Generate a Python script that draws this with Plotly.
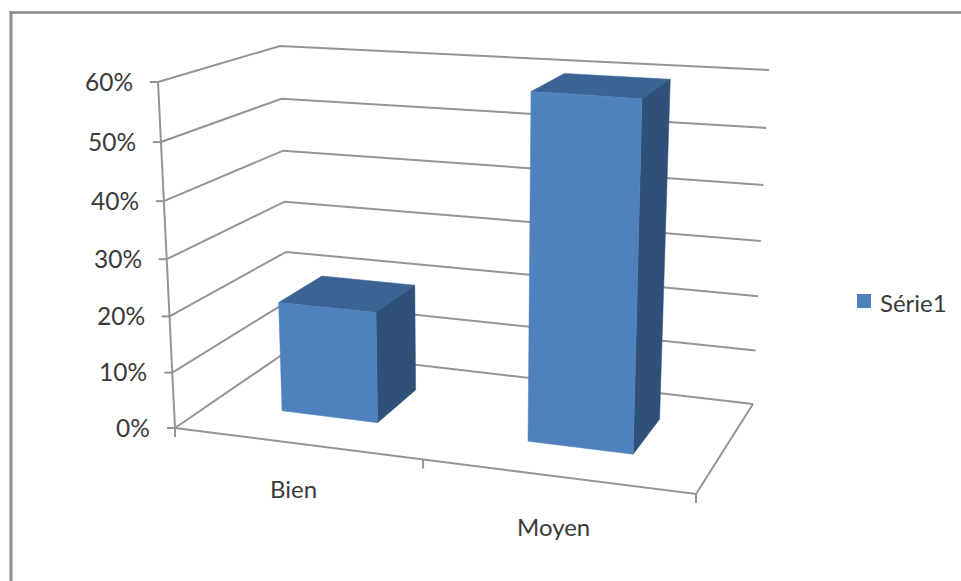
import plotly.graph_objects as go

# Chart data
categories = ["Bien", "Moyen"]
series_name = "Série1"
values = [0.20, 0.60]
value_ticks = [0.0, 0.1, 0.2, 0.3, 0.4, 0.5, 0.6]
tick_labels = ["0%", "10%", "20%", "30%", "40%", "50%", "60%"]

# Styling
FRONT, TOP, SIDE = "#4f81bd", "#3b6494", "#2f5179"
GRID = "#949494"
TEXT = "#3a3a3a"
FONT = "Lato"
VALUE_MAX = 0.6

# Screen position of the eight corners of the plot box, keyed (width, depth, height)
BOX = {
    (0, 0, 0): (175, 428), (1, 0, 0): (696, 494),
    (0, 1, 0): (289, 350), (1, 1, 0): (753, 404),
    (0, 0, 1): (158, 82), (1, 0, 1): (708, 121),
    (0, 1, 1): (280, 46), (1, 1, 1): (769, 70),
}


def foreshorten(c, k):
    """Perspective spacing along one box edge."""
    return c / (c + k * (1 - c))


def project(width, depth, value):
    """Map a point of the 3D plot box to the 2D drawing plane."""
    u = foreshorten(width, 1.10)
    v = foreshorten(depth, 0.87)
    t = foreshorten(value / VALUE_MAX, 1.05)
    x = y = 0.0
    for (i, j, k), (px, py) in BOX.items():
        w = (u if i else 1 - u) * (v if j else 1 - v) * (t if k else 1 - t)
        x += w * px
        y += w * py
    return x, y


def polyline(points):
    xs, ys = zip(*points)
    return go.Scatter(x=xs, y=ys, mode="lines", hoverinfo="skip", showlegend=False,
                      line=dict(color=GRID, width=2))


def face(points, color):
    xs, ys = zip(*(points + points[:1]))
    return go.Scatter(x=xs, y=ys, mode="lines", fill="toself", fillcolor=color,
                      line=dict(color=color, width=0.5), hoverinfo="skip", showlegend=False)


fig = go.Figure()

# Gridlines running along the side wall and the back wall, plus the floor outline
for tick in value_ticks:
    fig.add_trace(polyline([project(0, 0, tick), project(0, 1, tick), project(1, 1, tick)]))
fig.add_trace(polyline([project(0, 0, 0), project(1, 0, 0), project(1, 1, 0)]))
fig.add_trace(polyline([project(0, 0, 0), project(0, 0, VALUE_MAX)]))

# Tick marks on the value axis and on the category axis
for tick in value_ticks:
    x, y = project(0, 0, tick)
    fig.add_trace(polyline([(x - 8, y), (x, y)]))
for edge in range(len(categories) + 1):
    x, y = project(edge / len(categories), 0, 0)
    fig.add_trace(polyline([(x, y), (x, y + 9)]))

# One box per category: bars fill 40% of the category, centred in depth
BAR_SHARE, DEPTH_LO, DEPTH_HI = 0.4, 0.3, 0.7
n = len(categories)
for i, val in enumerate(values):
    x0 = (i + 0.5 - BAR_SHARE / 2) / n
    x1 = (i + 0.5 + BAR_SHARE / 2) / n
    fig.add_trace(face([project(x0, DEPTH_LO, val), project(x1, DEPTH_LO, val),
                        project(x1, DEPTH_HI, val), project(x0, DEPTH_HI, val)], TOP))
    fig.add_trace(face([project(x1, DEPTH_LO, 0), project(x1, DEPTH_HI, 0),
                        project(x1, DEPTH_HI, val), project(x1, DEPTH_LO, val)], SIDE))
    fig.add_trace(face([project(x0, DEPTH_LO, 0), project(x1, DEPTH_LO, 0),
                        project(x1, DEPTH_LO, val), project(x0, DEPTH_LO, val)], FRONT))

# Key for the single series, set beside the plot box
KEY_X, KEY_Y = 864, 301
fig.add_trace(go.Scatter(x=[KEY_X], y=[KEY_Y], mode="markers", name=series_name,
                         hoverinfo="skip", showlegend=False,
                         marker=dict(symbol="square", size=14, color=FRONT)))

annotations = [dict(x=KEY_X + 14, y=KEY_Y + 1, text=series_name, xanchor="left", yanchor="middle",
                    showarrow=False, font=dict(family=FONT, size=24, color=TEXT))]
for tick, label in zip(value_ticks, tick_labels):
    x, y = project(0, 0, tick)
    annotations.append(dict(x=x - 23, y=y - 1, text=label, xanchor="right", yanchor="middle",
                            showarrow=False, font=dict(family=FONT, size=24.5, color=TEXT)))
label_drop = [45, 50]
for i, name in enumerate(categories):
    x, y = project((i + 0.5) / n, 0, 0)
    annotations.append(dict(x=x - 3, y=y + label_drop[i], text=name, xanchor="center",
                            yanchor="middle", showarrow=False,
                            font=dict(family=FONT, size=24, color=TEXT)))

fig.update_layout(
    width=961, height=581,
    margin=dict(l=0, r=0, t=0, b=0),
    paper_bgcolor="white", plot_bgcolor="white",
    showlegend=False,
    font=dict(family=FONT, size=24, color=TEXT),
    xaxis=dict(range=[0, 961], visible=False, fixedrange=True),
    yaxis=dict(range=[581, 0], visible=False, fixedrange=True),
    annotations=annotations,
    shapes=[
        dict(type="line", xref="x", yref="y", x0=9.5, y0=12.5, x1=961, y1=12.5,
             line=dict(color="#888888", width=2.5)),
        dict(type="line", xref="x", yref="y", x0=11, y0=11, x1=11, y1=581,
             line=dict(color="#8e8e8e", width=3)),
    ],
)

fig.write_html("out.html", config={"displayModeBar": False})
